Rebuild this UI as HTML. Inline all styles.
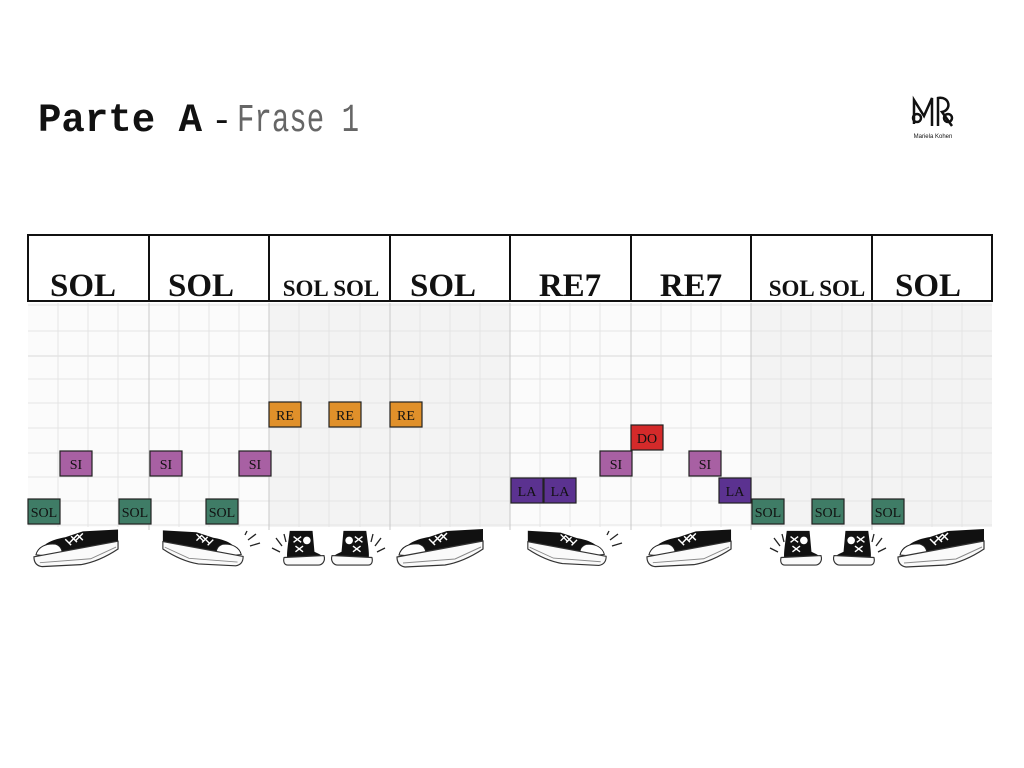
<!DOCTYPE html>
<html><head><meta charset="utf-8"><style>
html,body{margin:0;padding:0;background:#fff;}
svg{display:block;}
</style></head><body>
<svg width="1024" height="768" viewBox="0 0 1024 768" xmlns="http://www.w3.org/2000/svg">
<defs>
<symbol id="shoe" viewBox="0 0 90 40">
  <path d="M8 22 C12 14 22 10 34 8 L52 2 L88 0 L88 14 C80 20 70 26 60 28 L10 30 Z" fill="#111"/>
  <path d="M4 26 C6 18 14 14 24 15 C30 17 32 22 30 28 Z" fill="#fff" stroke="#222" stroke-width="1"/>
  <path d="M2 28 L88 12 L88 20 C76 28 62 34 50 36 L10 38 C4 37 2 33 2 28 Z" fill="#fafafa" stroke="#333" stroke-width="1.2"/>
  <path d="M8 34 L60 30 L86 18" stroke="#888" stroke-width="1" fill="none"/>
  <path d="M34 10 L40 16 M40 7 L46 13 M46 5 L52 11 M38 14 L46 6 M44 12 L52 4" stroke="#fff" stroke-width="1.5"/>
</symbol>
<symbol id="hi" viewBox="0 0 50 40">
  <path d="M10 2 L34 2 L36 24 C40 26 46 28 46 32 L8 34 C6 28 8 18 10 2 Z" fill="#111"/>
  <path d="M4 30 L46 28 C48 34 44 38 40 38 L8 38 C4 38 3 34 4 30 Z" fill="#fafafa" stroke="#333" stroke-width="1.2"/>
  <circle cx="28" cy="12" r="4" fill="#fff"/>
  <path d="M14 8 L22 14 M14 14 L22 8 M16 18 L24 24 M16 24 L24 18" stroke="#fff" stroke-width="1.5"/>
</symbol>
</defs>

<text x="38" y="131" font-family="Liberation Mono, monospace" font-weight="bold" font-size="40" fill="#111" textLength="164" lengthAdjust="spacingAndGlyphs">Parte A</text>
<text x="211" y="131" font-family="Liberation Mono, monospace" font-size="36" fill="#111">-</text>
<text x="237" y="131" font-family="Liberation Mono, monospace" font-size="40" font-weight="normal" fill="#666" textLength="122" lengthAdjust="spacingAndGlyphs">Frase 1</text>

<!-- logo -->
<g fill="none" stroke="#111" stroke-width="2.5">
  <path d="M914 124 L914 100 L924 116 L932 98 L932 126"/>
  <circle cx="917" cy="118" r="4"/>
  <path d="M938 126 L938 98 C950 96 952 110 942 112 L952 126"/>
  <circle cx="948" cy="118" r="4"/>
</g>
<text x="933" y="138" font-family="Liberation Sans, sans-serif" font-size="6" text-anchor="middle" fill="#111">Mariela Kohen</text>

<!-- grid backgrounds -->
<rect x="28" y="303" width="964" height="224" fill="#fbfbfb"/>
<rect x="269" y="303" width="241" height="224" fill="#f3f3f3"/>
<rect x="751" y="303" width="241" height="224" fill="#f3f3f3"/>
<g stroke="#e4e4e4" stroke-width="1">
  <line x1="28" y1="305" x2="992" y2="305"/>
  <line x1="28" y1="331" x2="992" y2="331"/>
  <line x1="28" y1="356" x2="992" y2="356" stroke="#d8d8d8"/>
  <line x1="28" y1="379" x2="992" y2="379"/>
  <line x1="28" y1="403" x2="992" y2="403"/>
  <line x1="28" y1="428" x2="992" y2="428"/>
  <line x1="28" y1="453" x2="992" y2="453"/>
  <line x1="28" y1="477" x2="992" y2="477"/>
  <line x1="28" y1="501" x2="992" y2="501"/>
  <line x1="28" y1="525" x2="992" y2="525"/>
  <line x1="58" y1="303" x2="58" y2="527"/><line x1="88" y1="303" x2="88" y2="527"/><line x1="118" y1="303" x2="118" y2="527"/>
  <line x1="179" y1="303" x2="179" y2="527"/><line x1="209" y1="303" x2="209" y2="527"/><line x1="239" y1="303" x2="239" y2="527"/>
  <line x1="299" y1="303" x2="299" y2="527"/><line x1="329" y1="303" x2="329" y2="527"/><line x1="360" y1="303" x2="360" y2="527"/>
  <line x1="420" y1="303" x2="420" y2="527"/><line x1="450" y1="303" x2="450" y2="527"/><line x1="480" y1="303" x2="480" y2="527"/>
  <line x1="540" y1="303" x2="540" y2="527"/><line x1="570" y1="303" x2="570" y2="527"/><line x1="600" y1="303" x2="600" y2="527"/>
  <line x1="661" y1="303" x2="661" y2="527"/><line x1="691" y1="303" x2="691" y2="527"/><line x1="721" y1="303" x2="721" y2="527"/>
  <line x1="781" y1="303" x2="781" y2="527"/><line x1="811" y1="303" x2="811" y2="527"/><line x1="842" y1="303" x2="842" y2="527"/>
  <line x1="902" y1="303" x2="902" y2="527"/><line x1="932" y1="303" x2="932" y2="527"/><line x1="962" y1="303" x2="962" y2="527"/>
</g>
<g stroke="#c8c8c8" stroke-width="1">
  <line x1="149" y1="303" x2="149" y2="530"/><line x1="269" y1="303" x2="269" y2="530"/><line x1="390" y1="303" x2="390" y2="530"/>
  <line x1="510" y1="303" x2="510" y2="530"/><line x1="631" y1="303" x2="631" y2="530"/><line x1="751" y1="303" x2="751" y2="530"/><line x1="872" y1="303" x2="872" y2="530"/>
</g>

<!-- header -->
<g stroke="#111" stroke-width="2" fill="none">
  <rect x="28" y="235" width="964" height="66" fill="#fff"/>
  <line x1="149" y1="235" x2="149" y2="301"/><line x1="269" y1="235" x2="269" y2="301"/><line x1="390" y1="235" x2="390" y2="301"/>
  <line x1="510" y1="235" x2="510" y2="301"/><line x1="631" y1="235" x2="631" y2="301"/><line x1="751" y1="235" x2="751" y2="301"/><line x1="872" y1="235" x2="872" y2="301"/>
</g>
<g font-family="Liberation Serif, serif" font-weight="bold" fill="#111" text-anchor="middle">
  <text x="83" y="296" font-size="33">SOL</text>
  <text x="201" y="296" font-size="33">SOL</text>
  <text x="331" y="296" font-size="23">SOL SOL</text>
  <text x="443" y="296" font-size="33">SOL</text>
  <text x="570" y="296" font-size="33">RE7</text>
  <text x="691" y="296" font-size="33">RE7</text>
  <text x="817" y="296" font-size="23">SOL SOL</text>
  <text x="928" y="296" font-size="33">SOL</text>
</g>

<!-- notes -->
<g stroke="#222" stroke-width="1.2" font-family="Liberation Serif, serif" font-size="14">
  <g fill="#3f7c66">
    <rect x="28" y="499" width="32" height="25"/><rect x="119" y="499" width="32" height="25"/><rect x="206" y="499" width="32" height="25"/>
    <rect x="752" y="499" width="32" height="25"/><rect x="812" y="499" width="32" height="25"/><rect x="872" y="499" width="32" height="25"/>
  </g>
  <g fill="#a860a3">
    <rect x="60" y="451" width="32" height="25"/><rect x="150" y="451" width="32" height="25"/><rect x="239" y="451" width="32" height="25"/>
    <rect x="600" y="451" width="32" height="25"/><rect x="689" y="451" width="32" height="25"/>
  </g>
  <g fill="#5b3290">
    <rect x="511" y="478" width="32" height="25"/><rect x="544" y="478" width="32" height="25"/><rect x="719" y="478" width="32" height="25"/>
  </g>
  <g fill="#e0902a">
    <rect x="269" y="402" width="32" height="25"/><rect x="329" y="402" width="32" height="25"/><rect x="390" y="402" width="32" height="25"/>
  </g>
  <rect x="631" y="425" width="32" height="25" fill="#d42a2a"/>
</g>
<g font-family="Liberation Serif, serif" font-size="14" fill="#111" text-anchor="middle">
  <text x="44" y="517">SOL</text><text x="135" y="517">SOL</text><text x="222" y="517">SOL</text>
  <text x="768" y="517">SOL</text><text x="828" y="517">SOL</text><text x="888" y="517">SOL</text>
  <text x="76" y="469">SI</text><text x="166" y="469">SI</text><text x="255" y="469">SI</text><text x="616" y="469">SI</text><text x="705" y="469">SI</text>
  <text x="527" y="496">LA</text><text x="560" y="496">LA</text><text x="735" y="496">LA</text>
  <text x="285" y="420">RE</text><text x="345" y="420">RE</text><text x="406" y="420">RE</text>
  <text x="647" y="443">DO</text>
</g>

<!-- shoes -->
<use href="#shoe" x="32" y="529" width="88" height="40"/>
<use href="#shoe" x="-245" y="529" width="84" height="40" transform="scale(-1,1)"/>
<use href="#hi" x="280" y="529" width="48" height="38"/>
<use href="#hi" x="-376" y="529" width="48" height="38" transform="scale(-1,1)"/>
<use href="#shoe" x="395" y="529" width="90" height="40"/>
<use href="#shoe" x="-608" y="529" width="82" height="40" transform="scale(-1,1)"/>
<use href="#shoe" x="645" y="529" width="88" height="40"/>
<use href="#hi" x="777" y="529" width="48" height="38"/>
<use href="#hi" x="-878" y="529" width="48" height="38" transform="scale(-1,1)"/>
<use href="#shoe" x="896" y="529" width="90" height="40"/>
<g stroke="#222" stroke-width="1.3">
  <line x1="248" y1="540" x2="256" y2="534"/><line x1="250" y1="546" x2="260" y2="543"/><line x1="245" y1="535" x2="247" y2="531"/>
  <line x1="610" y1="540" x2="618" y2="534"/><line x1="612" y1="546" x2="622" y2="543"/><line x1="607" y1="535" x2="609" y2="531"/>
  <line x1="272" y1="548" x2="280" y2="552"/><line x1="276" y1="538" x2="282" y2="546"/><line x1="284" y1="534" x2="286" y2="542"/>
  <line x1="385" y1="548" x2="377" y2="552"/><line x1="381" y1="538" x2="375" y2="546"/><line x1="373" y1="534" x2="371" y2="542"/>
  <line x1="770" y1="548" x2="778" y2="552"/><line x1="774" y1="538" x2="780" y2="546"/><line x1="782" y1="534" x2="784" y2="542"/>
  <line x1="886" y1="548" x2="878" y2="552"/><line x1="882" y1="538" x2="876" y2="546"/><line x1="874" y1="534" x2="872" y2="542"/>
</g>
</svg>
</body></html>
